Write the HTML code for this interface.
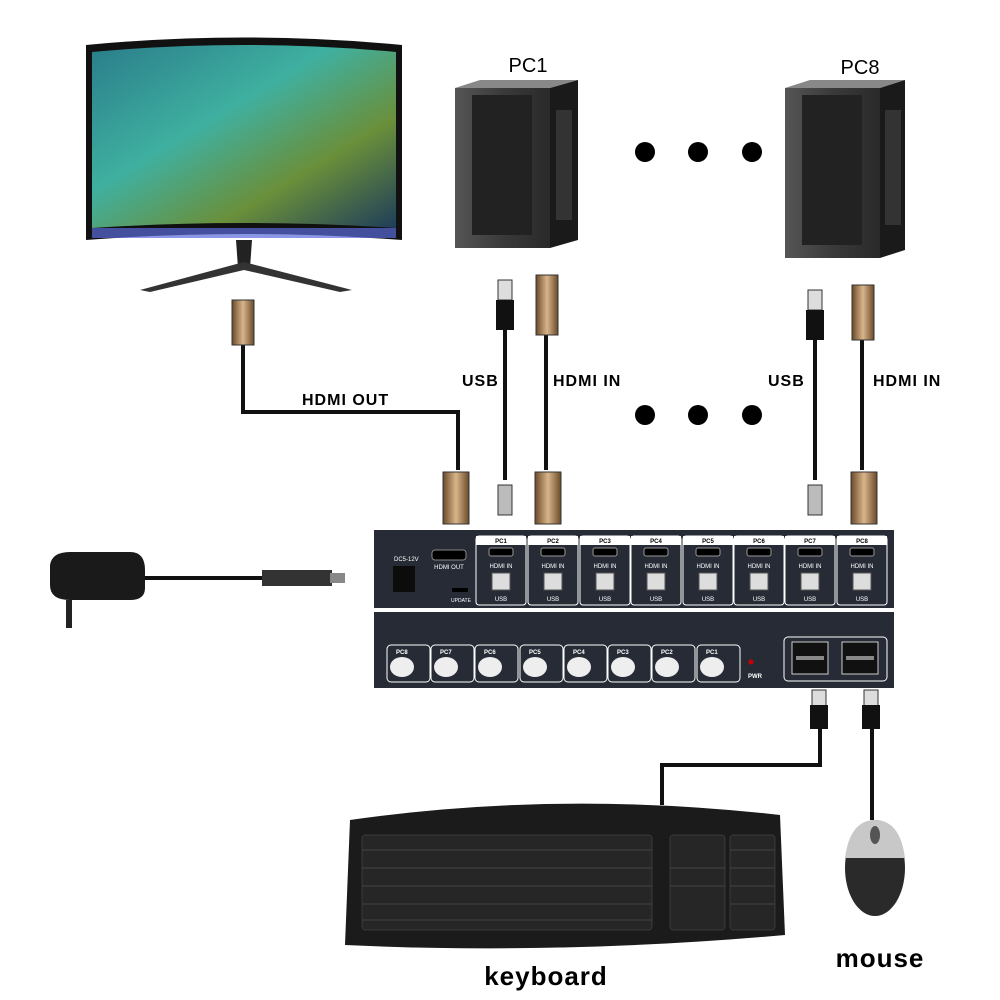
<!DOCTYPE html><html><head><style>body{margin:0;background:#fff}svg{display:block}text{font-family:"Liberation Sans",sans-serif}</style></head><body>
<svg width="1000" height="1000" viewBox="0 0 1000 1000" xmlns="http://www.w3.org/2000/svg">
<defs>
<linearGradient id="scr" x1="0" y1="0" x2="1" y2="1"><stop offset="0" stop-color="#2a7d8a"/><stop offset=".4" stop-color="#3fb0a0"/><stop offset=".7" stop-color="#6a8f3a"/><stop offset="1" stop-color="#1e3d5a"/></linearGradient>
<linearGradient id="tw" x1="0" x2="1"><stop offset="0" stop-color="#555"/><stop offset=".5" stop-color="#3a3a3a"/><stop offset="1" stop-color="#2a2a2a"/></linearGradient>
<linearGradient id="gold" x1="0" x2="1"><stop offset="0" stop-color="#6b4a2a"/><stop offset=".5" stop-color="#d8b58a"/><stop offset="1" stop-color="#6b4a2a"/></linearGradient>
</defs>
<path d="M86 45 Q245 30 402 45 L402 240 Q245 228 86 240 Z" fill="#111"/>
<path d="M92 52 Q245 38 396 52 L396 228 Q245 218 92 228 Z" fill="url(#scr)"/>
<rect x="92" y="228" width="304" height="10" fill="#5a6ad8" opacity=".7"/>
<path d="M236 240 L252 240 L250 268 L238 268Z" fill="#222"/>
<path d="M244 262 L140 290 L150 292 L244 270 L340 292 L352 290Z" fill="#333"/>
<g><rect x="455" y="88" width="95" height="160" fill="url(#tw)"/><path d="M455 88 L480 80 L578 80 L550 88Z" fill="#888"/><path d="M550 88 L578 80 L578 240 L550 248Z" fill="#1a1a1a"/><rect x="472" y="95" width="60" height="140" fill="#222"/><rect x="556" y="110" width="16" height="110" fill="#333"/></g>
<g><rect x="785" y="88" width="95" height="170" fill="url(#tw)"/><path d="M785 88 L810 80 L905 80 L880 88Z" fill="#888"/><path d="M880 88 L905 80 L905 250 L880 258Z" fill="#1a1a1a"/><rect x="802" y="95" width="60" height="150" fill="#222"/><rect x="885" y="110" width="16" height="115" fill="#333"/></g>
<text x="528" y="72" font-size="20" text-anchor="middle">PC1</text>
<text x="860" y="74" font-size="20" text-anchor="middle">PC8</text>
<g fill="#000"><circle cx="645" cy="152" r="10"/><circle cx="698" cy="152" r="10"/><circle cx="752" cy="152" r="10"/><circle cx="645" cy="415" r="10"/><circle cx="698" cy="415" r="10"/><circle cx="752" cy="415" r="10"/></g>
<g fill="none" stroke="#111" stroke-width="4">
<path d="M243 345 L243 412 L458 412 L458 470"/>
<path d="M505 325 L505 480"/><path d="M546 335 L546 470"/>
<path d="M815 325 L815 480"/><path d="M862 335 L862 470"/>
<path d="M145 578 L262 578"/>
<path d="M820 725 L820 765 L662 765 L662 805"/><path d="M872 725 L872 820"/>
</g>
<g fill="url(#gold)" stroke="#333">
<rect x="232" y="300" width="22" height="45"/>
<rect x="536" y="275" width="22" height="60"/><rect x="852" y="285" width="22" height="55"/>
<rect x="443" y="472" width="26" height="52"/><rect x="535" y="472" width="26" height="52"/><rect x="851" y="472" width="26" height="52"/>
</g>
<g fill="#ddd" stroke="#333"><rect x="498" y="280" width="14" height="20"/><rect x="808" y="290" width="14" height="20"/><rect x="498" y="485" width="14" height="30" fill="#bbb"/><rect x="808" y="485" width="14" height="30" fill="#bbb"/>
<rect x="812" y="690" width="14" height="18"/><rect x="864" y="690" width="14" height="18"/></g>
<g fill="#111"><rect x="496" y="300" width="18" height="30"/><rect x="806" y="310" width="18" height="30"/><rect x="810" y="705" width="18" height="24"/><rect x="862" y="705" width="18" height="24"/></g>
<g font-size="16" font-weight="bold" letter-spacing="1"><text x="302" y="405">HDMI OUT</text><text x="462" y="386">USB</text><text x="553" y="386">HDMI IN</text><text x="768" y="386">USB</text><text x="873" y="386">HDMI IN</text></g>
<path d="M50 565 Q52 552 70 552 L130 552 Q145 552 145 570 L145 588 Q145 600 130 600 L70 600 Q50 600 50 585Z" fill="#1a1a1a"/>
<rect x="66" y="600" width="6" height="28" fill="#222"/>
<rect x="262" y="570" width="70" height="16" fill="#333"/><rect x="330" y="573" width="15" height="10" fill="#888"/>
<rect x="374" y="530" width="520" height="78" fill="#262b36"/>
<rect x="374" y="612" width="520" height="76" fill="#262b36"/>
<rect x="393" y="566" width="22" height="26" fill="#0c0c0c"/>
<text x="394" y="561" font-size="6" fill="#fff">DC5-12V</text>
<rect x="432" y="550" width="34" height="10" rx="3" fill="#000" stroke="#888"/>
<text x="449" y="569" font-size="6" fill="#fff" text-anchor="middle">HDMI OUT</text>
<rect x="452" y="588" width="16" height="4" fill="#000"/><text x="461" y="602" font-size="5" fill="#fff" text-anchor="middle">UPDATE</text>
<g font-size="6" fill="#fff" text-anchor="middle">
<g stroke="#fff" stroke-width="1" fill="none">
<rect x="476" y="536" width="50" height="69" rx="3"/><rect x="528" y="536" width="50" height="69" rx="3"/><rect x="580" y="536" width="50" height="69" rx="3"/><rect x="631" y="536" width="50" height="69" rx="3"/><rect x="683" y="536" width="50" height="69" rx="3"/><rect x="734" y="536" width="50" height="69" rx="3"/><rect x="785" y="536" width="50" height="69" rx="3"/><rect x="837" y="536" width="50" height="69" rx="3"/>
</g>
<g fill="#fff"><rect x="476" y="536" width="50" height="9"/><rect x="528" y="536" width="50" height="9"/><rect x="580" y="536" width="50" height="9"/><rect x="631" y="536" width="50" height="9"/><rect x="683" y="536" width="50" height="9"/><rect x="734" y="536" width="50" height="9"/><rect x="785" y="536" width="50" height="9"/><rect x="837" y="536" width="50" height="9"/></g>
<g fill="#000" font-weight="bold"><text x="501" y="543">PC1</text><text x="553" y="543">PC2</text><text x="605" y="543">PC3</text><text x="656" y="543">PC4</text><text x="708" y="543">PC5</text><text x="759" y="543">PC6</text><text x="810" y="543">PC7</text><text x="862" y="543">PC8</text></g>
<g fill="#000" stroke="#999"><rect x="489" y="548" width="24" height="8" rx="2"/><rect x="541" y="548" width="24" height="8" rx="2"/><rect x="593" y="548" width="24" height="8" rx="2"/><rect x="644" y="548" width="24" height="8" rx="2"/><rect x="696" y="548" width="24" height="8" rx="2"/><rect x="747" y="548" width="24" height="8" rx="2"/><rect x="798" y="548" width="24" height="8" rx="2"/><rect x="850" y="548" width="24" height="8" rx="2"/></g>
<text x="501" y="568">HDMI IN</text><text x="553" y="568">HDMI IN</text><text x="605" y="568">HDMI IN</text><text x="656" y="568">HDMI IN</text><text x="708" y="568">HDMI IN</text><text x="759" y="568">HDMI IN</text><text x="810" y="568">HDMI IN</text><text x="862" y="568">HDMI IN</text>
<g fill="#ddd" stroke="#555"><rect x="492" y="573" width="18" height="17"/><rect x="544" y="573" width="18" height="17"/><rect x="596" y="573" width="18" height="17"/><rect x="647" y="573" width="18" height="17"/><rect x="699" y="573" width="18" height="17"/><rect x="750" y="573" width="18" height="17"/><rect x="801" y="573" width="18" height="17"/><rect x="853" y="573" width="18" height="17"/></g>
<text x="501" y="601">USB</text><text x="553" y="601">USB</text><text x="605" y="601">USB</text><text x="656" y="601">USB</text><text x="708" y="601">USB</text><text x="759" y="601">USB</text><text x="810" y="601">USB</text><text x="862" y="601">USB</text>
</g>
<g stroke="#fff" fill="none"><rect x="387" y="645" width="43" height="37" rx="4"/><rect x="431" y="645" width="43" height="37" rx="4"/><rect x="475" y="645" width="43" height="37" rx="4"/><rect x="520" y="645" width="43" height="37" rx="4"/><rect x="564" y="645" width="43" height="37" rx="4"/><rect x="608" y="645" width="43" height="37" rx="4"/><rect x="652" y="645" width="43" height="37" rx="4"/><rect x="697" y="645" width="43" height="37" rx="4"/>
<rect x="784" y="637" width="103" height="44" rx="4"/></g>
<g fill="#eee"><ellipse cx="402" cy="667" rx="12" ry="10"/><ellipse cx="446" cy="667" rx="12" ry="10"/><ellipse cx="490" cy="667" rx="12" ry="10"/><ellipse cx="535" cy="667" rx="12" ry="10"/><ellipse cx="579" cy="667" rx="12" ry="10"/><ellipse cx="623" cy="667" rx="12" ry="10"/><ellipse cx="667" cy="667" rx="12" ry="10"/><ellipse cx="712" cy="667" rx="12" ry="10"/></g>
<g font-size="6" fill="#fff" font-weight="bold"><text x="396" y="654">PC8</text><text x="440" y="654">PC7</text><text x="484" y="654">PC6</text><text x="529" y="654">PC5</text><text x="573" y="654">PC4</text><text x="617" y="654">PC3</text><text x="661" y="654">PC2</text><text x="706" y="654">PC1</text><text x="748" y="678">PWR</text></g>
<circle cx="751" cy="662" r="2.5" fill="#c00"/>
<g fill="#111" stroke="#ccc"><rect x="792" y="642" width="36" height="32"/><rect x="842" y="642" width="36" height="32"/></g>
<g fill="#888"><rect x="796" y="656" width="28" height="4"/><rect x="846" y="656" width="28" height="4"/></g>
<path d="M350 820 Q560 790 780 815 L785 935 Q560 955 345 945 Z" fill="#1b1b1b"/>
<g fill="#2e2e2e" stroke="#555" stroke-width=".5">
<rect x="362" y="835" width="290" height="95" rx="3" fill="#262626"/>
<rect x="670" y="835" width="55" height="95" rx="3" fill="#262626"/>
<rect x="730" y="835" width="45" height="95" rx="3" fill="#262626"/>
</g>
<g stroke="#444" stroke-width="1">
<path d="M362 850 H652 M362 868 H652 M362 886 H652 M362 904 H652 M362 920 H652"/>
<path d="M670 868 H725 M670 886 H725 M730 850 H775 M730 868 H775 M730 886 H775 M730 904 H775"/>
</g>
<ellipse cx="875" cy="868" rx="30" ry="48" fill="#2a2a2a"/>
<path d="M845 858 Q850 820 875 820 Q900 820 905 858 Z" fill="#c8c8c8"/>
<ellipse cx="875" cy="835" rx="5" ry="9" fill="#555"/>
<text x="546" y="985" font-size="26" font-weight="bold" text-anchor="middle" letter-spacing="1">keyboard</text>
<text x="880" y="967" font-size="26" font-weight="bold" text-anchor="middle" letter-spacing="1">mouse</text>
</svg>
</body></html>
